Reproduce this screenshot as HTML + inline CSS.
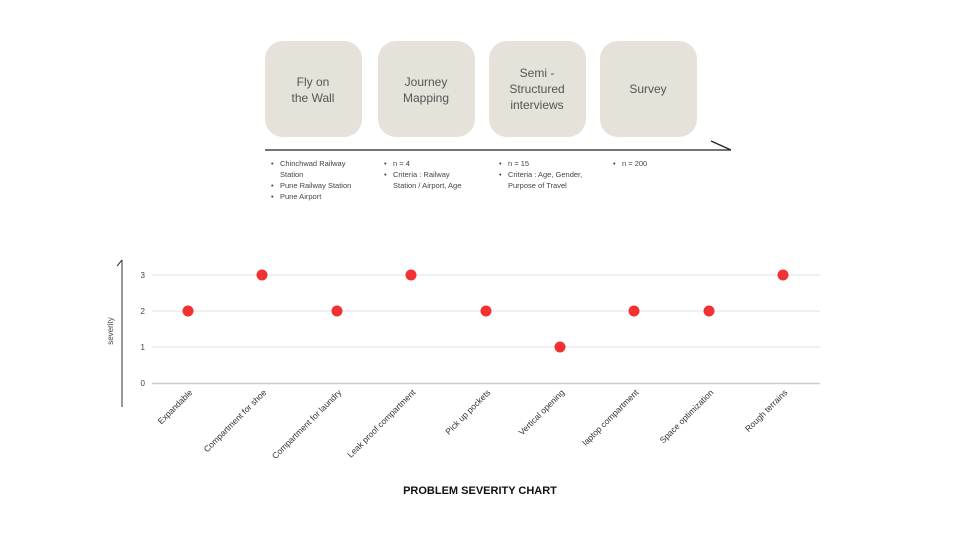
<!DOCTYPE html>
<html><head><meta charset="utf-8"><style>
html,body{margin:0;padding:0;background:#fff;}
body{width:960px;height:540px;overflow:hidden;font-family:"Liberation Sans",sans-serif;}
</style></head><body>
<svg width="960" height="540" viewBox="0 0 960 540" xmlns="http://www.w3.org/2000/svg" font-family="Liberation Sans, sans-serif">
<g fill="#e5e2d9">
<rect x="265" y="41" width="97" height="96" rx="18"/>
<rect x="378" y="41" width="97" height="96" rx="18"/>
<rect x="489" y="41" width="97" height="96" rx="18"/>
<rect x="600" y="41" width="97" height="96" rx="18"/>
</g>
<g fill="#555" font-size="12" text-anchor="middle">
<text x="313" y="86">Fly on</text><text x="313" y="102">the Wall</text>
<text x="426" y="86">Journey</text><text x="426" y="102">Mapping</text>
<text x="537" y="77">Semi -</text><text x="537" y="93">Structured</text><text x="537" y="109">interviews</text>
<text x="648" y="93">Survey</text>
</g>
<line x1="265" y1="150" x2="731" y2="150" stroke="#222" stroke-width="1.3"/>
<line x1="711" y1="141" x2="731" y2="150" stroke="#222" stroke-width="1.3"/>
<g fill="#444" font-size="7.5">
<text x="271" y="166">•</text><text x="280" y="166">Chinchwad Railway</text>
<text x="280" y="177">Station</text>
<text x="271" y="188">•</text><text x="280" y="188">Pune Railway Station</text>
<text x="271" y="199">•</text><text x="280" y="199">Pune Airport</text>
<text x="384" y="166">•</text><text x="393" y="166">n = 4</text>
<text x="384" y="177">•</text><text x="393" y="177">Criteria : Railway</text>
<text x="393" y="188">Station / Airport, Age</text>
<text x="499" y="166">•</text><text x="508" y="166">n = 15</text>
<text x="499" y="177">•</text><text x="508" y="177">Criteria : Age, Gender,</text>
<text x="508" y="188">Purpose of Travel</text>
<text x="613" y="166">•</text><text x="622" y="166">n = 200</text>
</g>
<g stroke="#e2e2e2" stroke-width="1">
<line x1="152" y1="275" x2="820" y2="275"/>
<line x1="152" y1="311" x2="820" y2="311"/>
<line x1="152" y1="347" x2="820" y2="347"/>
</g>
<line x1="152" y1="383.5" x2="820" y2="383.5" stroke="#ccc" stroke-width="1.5"/>
<line x1="122" y1="260" x2="122" y2="407" stroke="#333" stroke-width="1"/>
<line x1="122" y1="260" x2="117" y2="266" stroke="#333" stroke-width="1"/>
<g fill="#444" font-size="8" text-anchor="end">
<text x="145" y="278">3</text><text x="145" y="314">2</text><text x="145" y="350">1</text><text x="145" y="386">0</text>
</g>
<text x="113" y="331" font-size="8" fill="#444" text-anchor="middle" transform="rotate(-90 113 331)">severity</text>
<g fill="#f23232">
<circle cx="188" cy="311" r="5.5"/><circle cx="262" cy="275" r="5.5"/><circle cx="337" cy="311" r="5.5"/>
<circle cx="411" cy="275" r="5.5"/><circle cx="486" cy="311" r="5.5"/><circle cx="560" cy="347" r="5.5"/>
<circle cx="634" cy="311" r="5.5"/><circle cx="709" cy="311" r="5.5"/><circle cx="783" cy="275" r="5.5"/>
</g>
<g fill="#333" font-size="8.5" text-anchor="end">
<text transform="translate(193,393) rotate(-45)">Expandable</text>
<text transform="translate(267,393) rotate(-45)">Compartment for shoe</text>
<text transform="translate(342,393) rotate(-45)">Compartment for laundry</text>
<text transform="translate(416,393) rotate(-45)">Leak proof compartment</text>
<text transform="translate(491,393) rotate(-45)">Pick up pockets</text>
<text transform="translate(565,393) rotate(-45)">Vertical opening</text>
<text transform="translate(639,393) rotate(-45)">laptop compartment</text>
<text transform="translate(714,393) rotate(-45)">Space optimization</text>
<text transform="translate(788,393) rotate(-45)">Rough terrains</text>
</g>
<text x="480" y="494" font-size="11" font-weight="bold" fill="#111" text-anchor="middle">PROBLEM SEVERITY CHART</text>
</svg>
</body></html>
